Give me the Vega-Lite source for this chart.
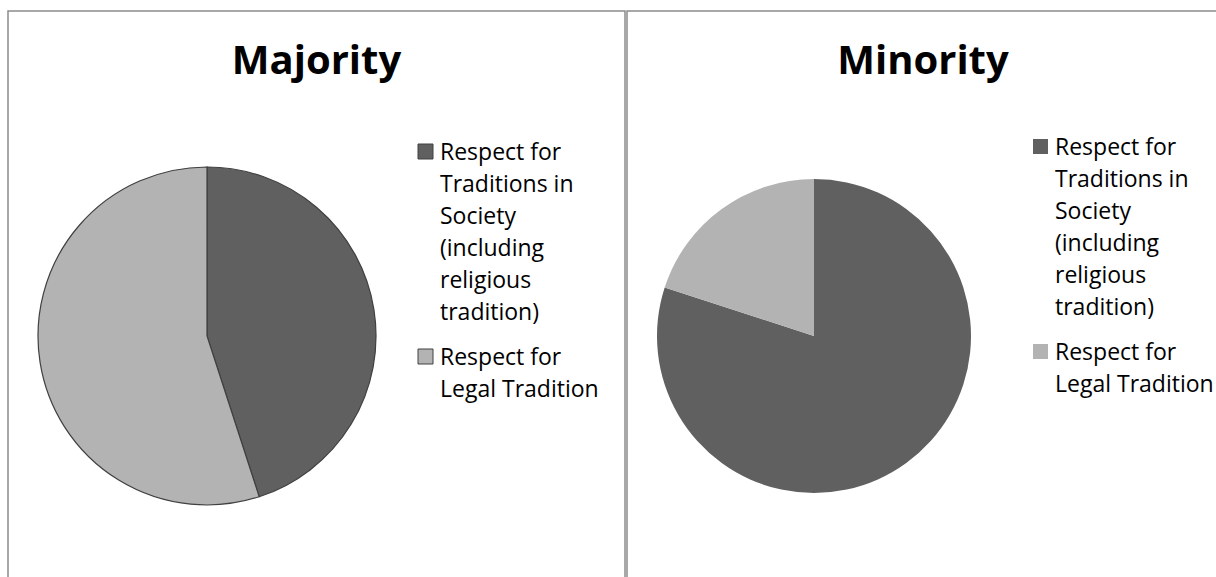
{
  "$schema": "https://vega.github.io/schema/vega-lite/v6.json",
  "padding": {"left": 7, "top": 10, "right": 0, "bottom": 0},
  "background": "white",
  "datasets": {
    "pies": [
      {"panel": "Majority", "category": "Respect for Traditions in Society (including religious tradition)", "value": 45},
      {"panel": "Majority", "category": "Respect for Legal Tradition", "value": 55},
      {"panel": "Minority", "category": "Respect for Traditions in Society (including religious tradition)", "value": 80},
      {"panel": "Minority", "category": "Respect for Legal Tradition", "value": 20}
    ]
  },
  "data": {"name": "pies"},
  "spacing": 0,
  "hconcat": [
    {
      "width": 617,
      "height": 580,
      "view": {"stroke": "#8c8c8c", "strokeWidth": 1.5, "fill": null},
      "transform": [{"filter": "datum.panel == 'Majority'"}],
      "title": {"text": "Majority", "offset": -103, "baseline": "alphabetic"},
      "layer": [
        {
          "mark": {"type": "point", "opacity": 0, "size": 0},
          "encoding": {
            "x": {"datum": 0.5, "type": "quantitative", "axis": null, "scale": {"domain": [0, 1]}},
            "y": {"datum": 0.5, "type": "quantitative", "axis": null, "scale": {"domain": [0, 1]}}
          }
        },
        {
          "mark": {"type": "arc", "outerRadius": 169, "x": 199, "y": 325, "stroke": "#404040", "strokeWidth": 1.2},
          "encoding": {
            "theta": {"field": "value", "type": "quantitative", "stack": true},
            "order": {"field": "value", "type": "quantitative", "sort": "ascending"},
            "color": {
              "field": "category",
              "type": "nominal",
              "sort": ["Respect for Traditions in Society (including religious tradition)", "Respect for Legal Tradition"],
              "scale": {"domain": ["Respect for Traditions in Society (including religious tradition)", "Respect for Legal Tradition"], "range": ["#606060", "#b3b3b3"]},
              "legend": {
                "orient": "none",
                "legendX": 406,
                "legendY": 129,
                "symbolStrokeColor": "#404040",
                "symbolStrokeWidth": 1,
                "labelExpr": "datum.label == 'Respect for Legal Tradition' ? ['Respect for', 'Legal Tradition'] : ['Respect for', 'Traditions in', 'Society', '(including', 'religious', 'tradition)']",
                "encode": {"labels": {"update": {"lineHeight": {"value": 32}, "dy": {"value": -10}}}}
              }
            }
          }
        }
      ]
    },
    {
      "width": 592,
      "height": 580,
      "view": {"stroke": "#8c8c8c", "strokeWidth": 1.5, "fill": null},
      "transform": [{"filter": "datum.panel == 'Minority'"}],
      "title": {"text": "Minority", "offset": -103, "baseline": "alphabetic"},
      "layer": [
        {
          "mark": {"type": "point", "opacity": 0, "size": 0},
          "encoding": {
            "x": {"datum": 0.5, "type": "quantitative", "axis": null, "scale": {"domain": [0, 1]}},
            "y": {"datum": 0.5, "type": "quantitative", "axis": null, "scale": {"domain": [0, 1]}}
          }
        },
        {
          "mark": {"type": "arc", "outerRadius": 157, "x": 187, "y": 325},
          "encoding": {
            "theta": {"field": "value", "type": "quantitative", "stack": true},
            "order": {"field": "value", "type": "quantitative", "sort": "descending"},
            "color": {
              "field": "category",
              "type": "nominal",
              "sort": ["Respect for Traditions in Society (including religious tradition)", "Respect for Legal Tradition"],
              "scale": {"domain": ["Respect for Traditions in Society (including religious tradition)", "Respect for Legal Tradition"], "range": ["#606060", "#b3b3b3"]},
              "legend": {
                "orient": "none",
                "legendX": 402,
                "legendY": 124,
                "symbolStrokeWidth": 0,
                "labelExpr": "datum.label == 'Respect for Legal Tradition' ? ['Respect for', 'Legal Tradition'] : ['Respect for', 'Traditions in', 'Society', '(including', 'religious', 'tradition)']",
                "encode": {"labels": {"update": {"lineHeight": {"value": 32}, "dy": {"value": -10}}}}
              }
            }
          }
        }
      ]
    }
  ],
  "resolve": {"legend": {"color": "independent"}, "scale": {"color": "independent"}},
  "config": {
    "view": {"stroke": "#8c8c8c", "strokeWidth": 1.5},
    "title": {"font": "Open Sans", "fontSize": 40, "fontWeight": "bold", "color": "#000000", "anchor": "middle", "frame": "group"},
    "legend": {
      "title": null,
      "symbolType": "square",
      "symbolSize": 225,
      "symbolOpacity": 1,
      "labelFont": "Open Sans",
      "labelFontSize": 23,
      "labelColor": "#000000",
      "labelBaseline": "top",
      "labelLimit": 400,
      "labelOffset": 3,
      "rowPadding": 20,
      "padding": 0
    }
  }
}
